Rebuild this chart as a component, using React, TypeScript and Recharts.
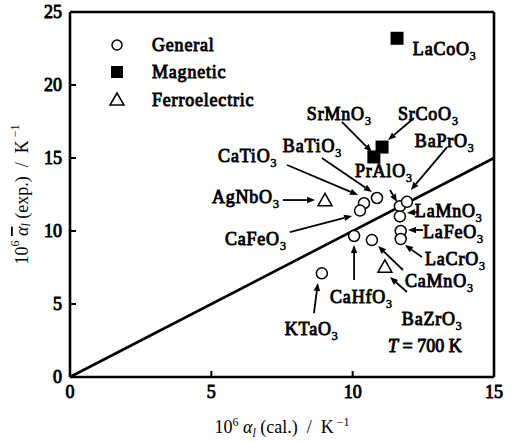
import React from "react";
import {
    ScatterChart,
    Scatter,
    XAxis,
    YAxis,
    ReferenceLine,
    ReferenceDot,
    Legend,
} from "recharts";

const FONT = "Liberation Serif";

// heavy serif lettering: regular glyphs thickened with a thin outline
const heavy = {
    fontFamily: FONT,
    fontWeight: 400,
    fontSize: 18,
    fill: "#000",
    stroke: "#000",
    strokeWidth: 0.9,
};

// thermal expansion: calculated (x) vs experimental (y), 10^-6 K^-1
const general = [
    { name: "KTaO3", x: 8.91, y: 7.1 },
    { name: "CaHfO3", x: 10.05, y: 9.66 },
    { name: "CaMnO3", x: 10.68, y: 9.38 },
    { name: "CaTiO3", x: 10.4, y: 11.9 },
    { name: "CaFeO3", x: 10.26, y: 11.4 },
    { name: "BaTiO3", x: 10.86, y: 12.26 },
    { name: "PrAlO3", x: 11.67, y: 11.7 },
    { name: "BaPrO3", x: 11.92, y: 12.0 },
    { name: "LaMnO3", x: 11.67, y: 11.0 },
    { name: "LaFeO3", x: 11.7, y: 10.0 },
    { name: "LaCrO3", x: 11.7, y: 9.45 },
];
const magnetic = [
    { name: "SrMnO3", x: 10.75, y: 15.07 },
    { name: "SrCoO3", x: 11.04, y: 15.75 },
    { name: "LaCoO3", x: 11.57, y: 23.2 },
];
const ferroelectric = [
    { name: "AgNbO3", x: 9.02, y: 12.1 },
    { name: "BaZrO3", x: 11.14, y: 7.55 },
];

const legendNames = ["General", "Magnetic", "Ferroelectric"];
const xTicks = [0, 5, 10, 15];
const yTicks = [0, 5, 10, 15, 20, 25];
const parityLine = [{ x: 0, y: 0 }, { x: 15, y: 15 }];

// where each compound name starts (axis units)
const nameSpots = [
    { name: "LaCoO3", x: 12.13, y: 22.05 },
    { name: "SrMnO3", x: 8.38, y: 17.6 },
    { name: "SrCoO3", x: 11.6, y: 17.6 },
    { name: "BaPrO3", x: 12.2, y: 15.75 },
    { name: "BaTiO3", x: 7.53, y: 15.4 },
    { name: "CaTiO3", x: 5.24, y: 14.73 },
    { name: "PrAlO3", x: 10.08, y: 13.7 },
    { name: "AgNbO3", x: 5.02, y: 11.92 },
    { name: "CaFeO3", x: 5.48, y: 9.04 },
    { name: "LaMnO3", x: 12.2, y: 10.96 },
    { name: "LaFeO3", x: 12.49, y: 9.52 },
    { name: "LaCrO3", x: 12.56, y: 7.67 },
    { name: "CaMnO3", x: 11.85, y: 6.16 },
    { name: "CaHfO3", x: 9.2, y: 5.07 },
    { name: "BaZrO3", x: 11.74, y: 3.56 },
    { name: "KTaO3", x: 7.6, y: 2.88 },
];

// pointer arrows, tail -> head
const arrows = [
    [{ x: 9.62, y: 17.47 }, { x: 10.68, y: 15.41 }],
    [{ x: 12.17, y: 17.74 }, { x: 11.25, y: 16.23 }],
    [{ x: 13.34, y: 15.75 }, { x: 12.06, y: 12.81 }],
    [{ x: 8.91, y: 15.0 }, { x: 10.68, y: 12.67 }],
    [{ x: 7.68, y: 14.52 }, { x: 10.19, y: 12.47 }],
    [{ x: 11.32, y: 12.81 }, { x: 11.57, y: 11.99 }],
    [{ x: 7.53, y: 12.12 }, { x: 8.67, y: 12.12 }],
    [{ x: 7.78, y: 9.93 }, { x: 9.98, y: 11.03 }],
    [{ x: 12.31, y: 11.3 }, { x: 11.92, y: 11.23 }],
    [{ x: 12.49, y: 10.07 }, { x: 11.96, y: 10.07 }],
    [{ x: 12.45, y: 8.22 }, { x: 11.85, y: 9.04 }],
    [{ x: 11.78, y: 7.33 }, { x: 10.9, y: 8.97 }],
    [{ x: 11.92, y: 5.82 }, { x: 11.32, y: 6.85 }],
    [{ x: 10.05, y: 6.64 }, { x: 10.05, y: 9.04 }],
    [{ x: 8.63, y: 4.38 }, { x: 8.77, y: 6.44 }],
];

const tempNote = { x: 11.25, y: 1.71 };

const NBSP = "\u00a0";

const Circle = ({ cx, cy }: any) => (
    <circle cx={cx} cy={cy} r={5.5} fill="#fff" stroke="#000" strokeWidth={1.5} />
);
const Square = ({ cx, cy }: any) => (
    <rect x={cx - 6.5} y={cy - 6.5} width={13} height={13} fill="#000" />
);
const Triangle = ({ cx, cy }: any) => (
    <polygon
        points={`${cx},${cy - 7} ${cx - 7},${cy + 5.5} ${cx + 7},${cy + 5.5}`}
        fill="#fff"
        stroke="#000"
        strokeWidth={1.5}
    />
);

const Arrow = ({ x1, y1, x2, y2 }: any) => {
    const dx = x2 - x1;
    const dy = y2 - y1;
    const len = Math.hypot(dx, dy) || 1;
    const ux = dx / len;
    const uy = dy / len;
    const bx = x2 - ux * 8;
    const by = y2 - uy * 8;
    return (
        <g>
            <line x1={x1} y1={y1} x2={bx} y2={by} stroke="#000" strokeWidth={1.8} />
            <polygon
                points={`${x2},${y2} ${bx - uy * 3.2},${by + ux * 3.2} ${bx + uy * 3.2},${by - ux * 3.2}`}
                fill="#000"
            />
        </g>
    );
};

const ParityLine = ({ x1, y1, x2, y2 }: any) => (
    <line x1={x1} y1={y1} x2={x2} y2={y2} stroke="#000" strokeWidth={2.6} />
);

// formula with the trailing digit set as a subscript
const formula = (name: string) => {
    const m = name.match(/^(.*?)(\d*)$/);
    const base = m ? m[1] : name;
    const sub = m ? m[2] : "";
    return (cx: number, cy: number) => (
        <text x={cx} y={cy} {...heavy} letterSpacing={0.8}>
            {base}
            {sub && (
                <tspan fontSize={12} dy={5} strokeWidth={0.6}>
                    {sub}
                </tspan>
            )}
        </text>
    );
};

const BottomTick = ({ x, y, payload }: any) => {
    const v = payload.value;
    const inner = v !== xTicks[0] && v !== xTicks[xTicks.length - 1];
    return (
        <g>
            {inner && <line x1={x} y1={y} x2={x} y2={y - 6} stroke="#000" strokeWidth={2} />}
            <text x={x} y={y + 21} textAnchor="middle" {...heavy}>
                {v}
            </text>
        </g>
    );
};
const TopTick = ({ x, y, payload }: any) => {
    const v = payload.value;
    const inner = v !== xTicks[0] && v !== xTicks[xTicks.length - 1];
    return inner ? <line x1={x} y1={y} x2={x} y2={y + 6} stroke="#000" strokeWidth={2} /> : <g />;
};
const LeftTick = ({ x, y, payload }: any) => {
    const v = payload.value;
    const inner = v !== yTicks[0] && v !== yTicks[yTicks.length - 1];
    return (
        <g>
            {inner && <line x1={x} y1={y} x2={x + 6} y2={y} stroke="#000" strokeWidth={2} />}
            <text x={x - 8} y={y + 6} textAnchor="end" {...heavy}>
                {v}
            </text>
        </g>
    );
};
const RightTick = ({ x, y, payload }: any) => {
    const v = payload.value;
    const inner = v !== yTicks[0] && v !== yTicks[yTicks.length - 1];
    return inner ? <line x1={x} y1={y} x2={x - 6} y2={y} stroke="#000" strokeWidth={2} /> : <g />;
};

const XTitle = ({ viewBox }: any) => {
    const cx = viewBox.x + viewBox.width / 2;
    return (
        <text x={cx} y={viewBox.y + 56} textAnchor="middle" fontFamily={FONT} fontSize={18} fill="#000">
            10
            <tspan fontSize={12} dy={-7}>6</tspan>
            <tspan dy={7} fontStyle="italic"> α</tspan>
            <tspan fontSize={12} dy={4} fontStyle="italic">l</tspan>
            <tspan dy={-4}>{` (cal.)${NBSP} /${NBSP} K`}</tspan>
            <tspan fontSize={12} dy={-7}>{`${NBSP}−1`}</tspan>
        </text>
    );
};

const YTitle = ({ viewBox }: any) => {
    const cx = 22;
    const cy = viewBox.y + viewBox.height / 2;
    return (
        <text
            x={cx}
            y={cy}
            transform={`rotate(-90 ${cx} ${cy})`}
            textAnchor="middle"
            dominantBaseline="central"
            fontFamily={FONT}
            fontSize={18}
            fill="#000"
        >
            10
            <tspan fontSize={12} dy={-7}>6</tspan>
            <tspan dy={7}> </tspan>
            <tspan fontStyle="italic" textDecoration="overline">α</tspan>
            <tspan fontSize={12} dy={4} fontStyle="italic">l</tspan>
            <tspan dy={-4}>{` (exp.)${NBSP} /${NBSP} K`}</tspan>
            <tspan fontSize={12} dy={-7}>{`${NBSP}−1`}</tspan>
        </text>
    );
};

const LegendBox = () => {
    const rowY = [12, 39, 67];
    const icons = [
        <circle cx={9} cy={rowY[0]} r={5} fill="#fff" stroke="#000" strokeWidth={1.5} />,
        <rect x={3} y={rowY[1] - 6} width={12} height={12} fill="#000" />,
        <polygon points={`9,${rowY[2] - 7} 2,${rowY[2] + 5} 16,${rowY[2] + 5}`} fill="#fff" stroke="#000" strokeWidth={1.5} />,
    ];
    return (
        <svg width={170} height={90} style={{ display: "block" }}>
            {legendNames.map((n, i) => (
                <g key={n}>
                    {icons[i]}
                    <text x={44} y={rowY[i] + 6} {...heavy} letterSpacing={0.8}>
                        {n}
                    </text>
                </g>
            ))}
        </svg>
    );
};

export default function App() {
    return (
        <div style={{ position: "absolute", left: 0, top: 0, background: "#fff" }}>
            <ScatterChart width={516} height={442} margin={{ top: 11, right: 21, bottom: 15, left: 10 }}>
                <XAxis
                    type="number"
                    dataKey="x"
                    domain={[0, 15]}
                    ticks={xTicks}
                    height={50}
                    tickLine={false}
                    tickSize={0}
                    tickMargin={0}
                    tick={<BottomTick />}
                    axisLine={{ stroke: "#000", strokeWidth: 2.6 }}
                    label={{ content: XTitle }}
                />
                <XAxis
                    xAxisId="top"
                    orientation="top"
                    type="number"
                    dataKey="x"
                    domain={[0, 15]}
                    ticks={xTicks}
                    height={1}
                    tickLine={false}
                    tickSize={0}
                    tickMargin={0}
                    tick={<TopTick />}
                    axisLine={{ stroke: "#000", strokeWidth: 2.6 }}
                />
                <YAxis
                    type="number"
                    dataKey="y"
                    domain={[0, 25]}
                    ticks={yTicks}
                    width={60}
                    tickLine={false}
                    tickSize={0}
                    tickMargin={0}
                    tick={<LeftTick />}
                    axisLine={{ stroke: "#000", strokeWidth: 2.6 }}
                    label={{ content: YTitle }}
                />
                <YAxis
                    yAxisId="right"
                    orientation="right"
                    type="number"
                    dataKey="y"
                    domain={[0, 25]}
                    ticks={yTicks}
                    width={1}
                    tickLine={false}
                    tickSize={0}
                    tickMargin={0}
                    tick={<RightTick />}
                    axisLine={{ stroke: "#000", strokeWidth: 2.6 }}
                />
                <Legend
                    layout="vertical"
                    align="center"
                    verticalAlign="middle"
                    content={LegendBox}
                    wrapperStyle={{ left: 108, top: 33, width: 170, height: 90 }}
                />
                <ReferenceLine segment={parityLine} shape={ParityLine} ifOverflow="visible" />
                {arrows.map((a, i) => (
                    <ReferenceLine key={i} segment={a} shape={Arrow} ifOverflow="visible" />
                ))}
                <Scatter name="General" data={general} shape={Circle} isAnimationActive={false} />
                <Scatter name="Magnetic" data={magnetic} shape={Square} isAnimationActive={false} />
                <Scatter name="Ferroelectric" data={ferroelectric} shape={Triangle} isAnimationActive={false} />
                {nameSpots.map((s) => {
                    const draw = formula(s.name);
                    return (
                        <ReferenceDot
                            key={s.name}
                            x={s.x}
                            y={s.y}
                            ifOverflow="visible"
                            shape={({ cx, cy }: any) => draw(cx, cy)}
                        />
                    );
                })}
                <ReferenceDot
                    x={tempNote.x}
                    y={tempNote.y}
                    ifOverflow="visible"
                    shape={({ cx, cy }: any) => (
                        <text x={cx} y={cy} {...heavy}>
                            <tspan fontStyle="italic">T</tspan> = 700 K
                        </text>
                    )}
                />
            </ScatterChart>
        </div>
    );
}
